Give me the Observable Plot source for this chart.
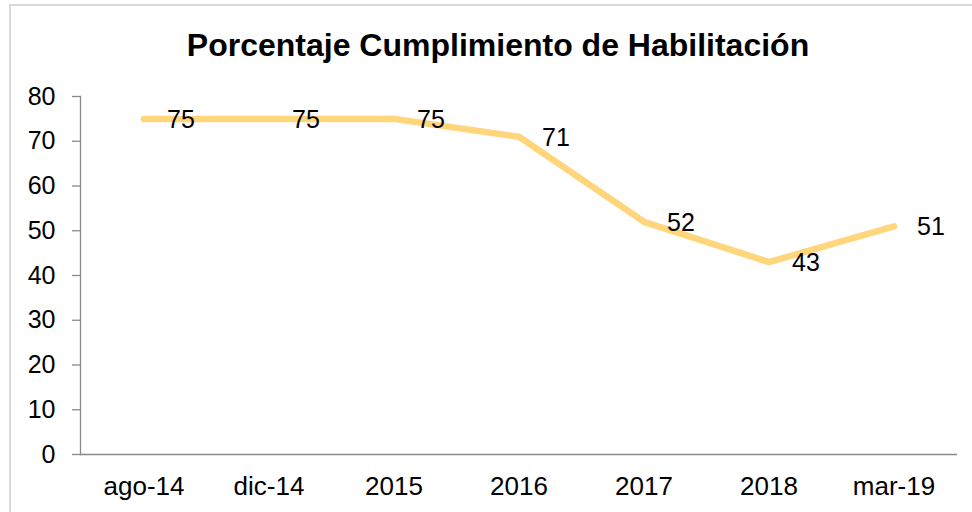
<!DOCTYPE html>
<html>
<head>
<meta charset="utf-8">
<script src="https://cdn.jsdelivr.net/npm/d3@7"></script>
<script src="https://cdn.jsdelivr.net/npm/@observablehq/plot@0.6"></script>
<style>
  html, body { margin: 0; padding: 0; background: #fff; overflow: hidden; }
  #wrap { position: relative; width: 972px; height: 512px; }
  #border { position: absolute; left: 9px; top: 4px; width: 1000px; height: 600px;
            border-top: 2px solid #d9d9d9; border-left: 2px solid #d9d9d9; box-sizing: border-box; }
  #chart { position: absolute; left: 0; top: 0; }
</style>
</head>
<body>
<div id="wrap"><div id="border"></div><div id="chart"></div></div>
<script>
const categories = ["ago-14", "dic-14", "2015", "2016", "2017", "2018", "mar-19"];
const values = [75, 75, 75, 71, 52, 43, 51];
const yTicks = [0, 10, 20, 30, 40, 50, 60, 70, 80];
const title = "Porcentaje Cumplimiento de Habilitación";

const data = categories.map((c, i) => ({cat: c, value: values[i]}));

const chart = Plot.plot({
  width: 972,
  height: 512,
  marginLeft: 80,
  marginRight: 15,
  marginTop: 96,
  marginBottom: 58,
  style: {fontFamily: "'Liberation Sans', Arial, sans-serif", fontSize: "25px", background: "transparent", color: "#000"},
  x: {type: "band", domain: categories, padding: 0, label: null},
  y: {domain: [0, 80], label: null},
  marks: [
    Plot.axisY({ticks: yTicks, tickSize: 8, tickPadding: 17, stroke: "#898989", strokeWidth: 1.3, fontSize: 25, label: null}),
    Plot.axisX({tickSize: 0, tickPadding: 22, fontSize: 26, label: null}),
    Plot.frame({anchor: "left", stroke: "#898989", strokeWidth: 1.3}),
    Plot.ruleY([0], {stroke: "#898989", strokeWidth: 1.3}),
    Plot.line(data, {x: "cat", y: "value", stroke: "#FFD67C", strokeWidth: 6.5, strokeLinecap: "round", strokeLinejoin: "round"}),
    Plot.text(data, {x: "cat", y: "value", text: d => String(d.value), textAnchor: "start", dx: 23, dy: 1, fontSize: 25, fill: "#000"}),
    Plot.text([title], {frameAnchor: "top", dx: -21, dy: -41, lineAnchor: "bottom", fontSize: 32, fontWeight: "bold", fill: "#000"})
  ]
});
document.getElementById("chart").appendChild(chart);
</script>
</body>
</html>
